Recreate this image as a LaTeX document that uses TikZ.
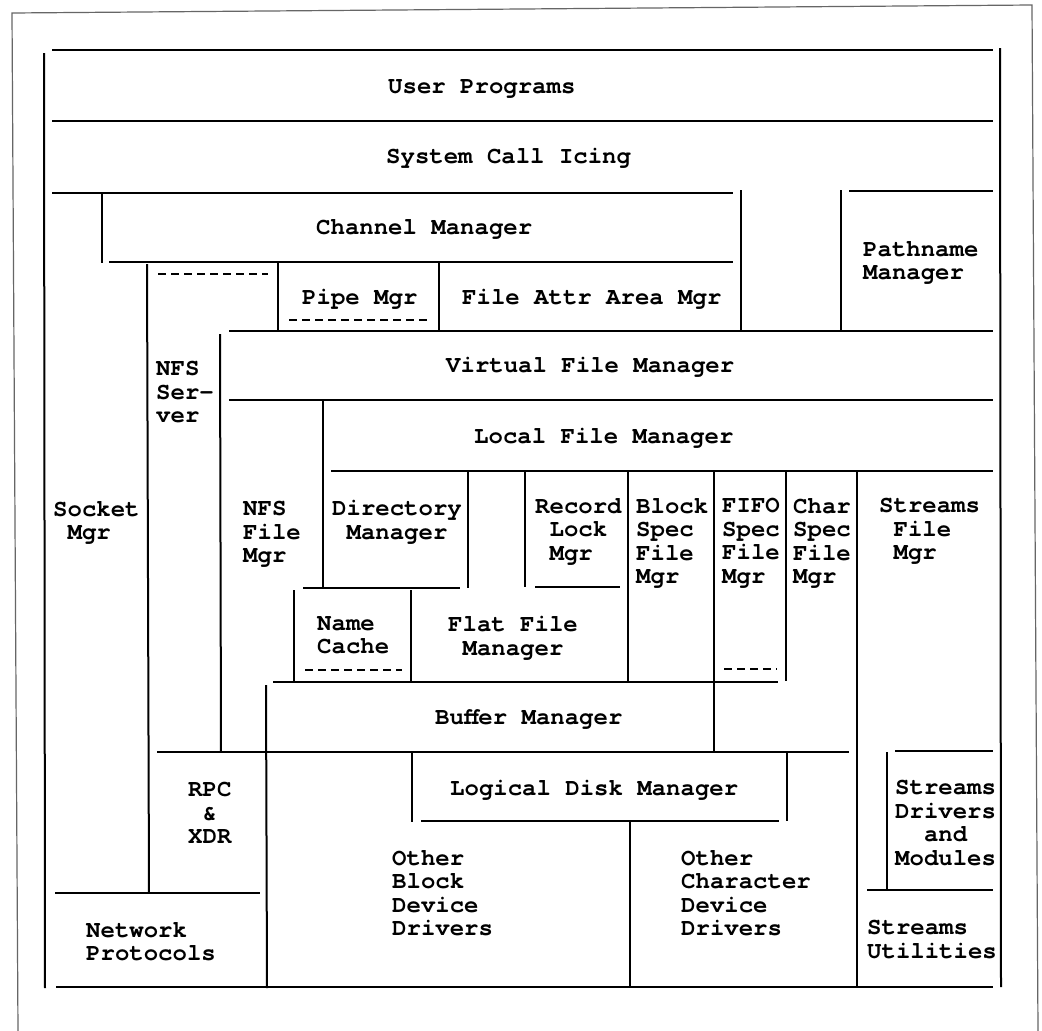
\documentclass[tikz,border=0pt]{standalone}
\usepackage{fontspec}
\newfontfamily\typewriter{texgyrecursor}[Extension=.otf,UprightFont=*-regular,BoldFont=*-bold]
\newcommand\chs{\hphantom{M}}
\begin{document}
\begin{tikzpicture}[x=1pt,y=-1pt,
  wall/.style={line width=2pt,black},
  dashwall/.style={line width=2pt,black,dash pattern=on 8pt off 5pt},
  frameline/.style={line width=1.2pt,black!60},
  lbl/.style={anchor=north west,inner sep=0pt,align=left,
    font=\typewriter\bfseries\fontsize{24}{23.5}\selectfont,
    execute at begin node={\rule{0pt}{22pt}}},
  mlbl/.style={lbl,yshift=-8pt}]
\useasboundingbox[fill=white] (0,0) rectangle (1042,1031);

% outer page frame
\draw[frameline] (18,1031) -- (12,13) -- (1032,5) -- (1038,1031);

% ---- horizontal layer boundaries ----
\draw[wall] (52,50) -- (993,50);
\draw[wall] (52,121) -- (993,121);
\draw[wall] (52,193) -- (733,193);
\draw[wall] (849,191) -- (993,191);
\draw[wall] (109,262) -- (733,262);
\draw[wall] (229,331) -- (993,331);
\draw[wall] (229,400) -- (993,400);
\draw[wall] (331,471) -- (993,471);
\draw[wall] (303,588) -- (460,588);
\draw[wall] (535,587) -- (620,587);
\draw[wall] (273,682) -- (778,682);
\draw[wall] (157,752) -- (849,752);
\draw[wall] (895,751) -- (993,751);
\draw[wall] (421,821) -- (779,821);
\draw[wall] (55,893) -- (260,893);
\draw[wall] (867,890) -- (993,890);
\draw[wall] (56,987) -- (993,987);

% ---- dashed boundaries ----
\draw[dashwall] (158,274) -- (268,274);
\draw[dashwall] (289,320) -- (429,320);
\draw[dashwall] (305,670) -- (402,670);
\draw[dashwall] (724,669) -- (777,669);

% ---- vertical boundaries ----
\draw[wall] (44,53) -- (45,988);
\draw[wall] (1000,48) -- (1001,987);
\draw[wall] (102,194) -- (102,263);
\draw[wall] (741,190) -- (741,330);
\draw[wall] (841,190) -- (841,330);
\draw[wall] (278,263) -- (278,331);
\draw[wall] (439,263) -- (439,331);
\draw[wall] (147,264) -- (149,893);
\draw[wall] (220,334) -- (221,752);
\draw[wall] (323,401) -- (323,588);
\draw[wall] (468,472) -- (468,588);
\draw[wall] (525,472) -- (525,587);
\draw[wall] (628,472) -- (628,681);
\draw[wall] (714,472) -- (714,751);
\draw[wall] (786,472) -- (786,681);
\draw[wall] (857,472) -- (857,986);
\draw[wall] (294,590) -- (294,682);
\draw[wall] (411,590) -- (411,682);
\draw[wall] (266,685) -- (267,988);
\draw[wall] (412,753) -- (412,822);
\draw[wall] (787,753) -- (787,821);
\draw[wall] (630,822) -- (630,986);
\draw[wall] (887,752) -- (887,890);

% ---- single-line labels ----
\node[lbl] (userprog)  at (388,71)  {User Programs};
\node[lbl] (syscall)   at (386,141) {System Call Icing};
\node[lbl] (chanmgr)   at (316,212) {Channel Manager};
\node[lbl] (pipemgr)   at (302,282) {Pipe Mgr};
\node[lbl] (attrmgr)   at (462,282) {File Attr Area Mgr};
\node[lbl] (vfsmgr)    at (446,350) {Virtual File Manager};
\node[lbl] (localmgr)  at (474,421) {Local File Manager};
\node[lbl] (bufmgr)    at (435,702) {Buffer Manager};
\node[lbl] (ldiskmgr)  at (450,773) {Logical Disk Manager};

% ---- multi-line labels ----
\node[mlbl] (pathmgr)   at (863,233) {Pathname\\Manager};
\node[mlbl] (nfsserver) at (156,353) {NFS\\Ser-\\ver};
\node[mlbl] (socketmgr) at (53,493)  {Socket\\\chs Mgr};
\node[mlbl] (nfsfile)   at (243,493) {NFS\\File\\Mgr};
\node[mlbl] (dirmgr)    at (332,492) {Directory\\\chs Manager};
\node[mlbl] (reclock)   at (535,490) {Record\\\chs Lock\\\chs Mgr};
\node[mlbl] (blockspec) at (636,490) {Block\\Spec\\File\\Mgr};
\node[mlbl] (fifospec)  at (722,490) {FIFO\\Spec\\File\\Mgr};
\node[mlbl] (charspec)  at (793,490) {Char\\Spec\\File\\Mgr};
\node[mlbl] (strfile)   at (879,490) {Streams\\\chs File\\\chs Mgr};
\node[mlbl] (namecache) at (317,608) {Name\\Cache};
\node[mlbl] (flatfile)  at (448,608) {Flat File\\\chs Manager};
\node[mlbl] (rpcxdr)    at (188,774) {RPC\\\chs\&\\XDR};
\node[mlbl] (blkdrv)    at (392,842) {Other\\Block\\Device\\Drivers};
\node[mlbl] (netproto)  at (86,914)  {Network\\Protocols};
\node[mlbl] (chrdrv)    at (681,842) {Other\\Character\\Device\\Drivers};
\node[mlbl] (strdrv)    at (895,772) {Streams\\Drivers\\\chs\chs and\\Modules};
\node[mlbl] (strutil)   at (867,912) {Streams\\Utilities};
\end{tikzpicture}
\end{document}
